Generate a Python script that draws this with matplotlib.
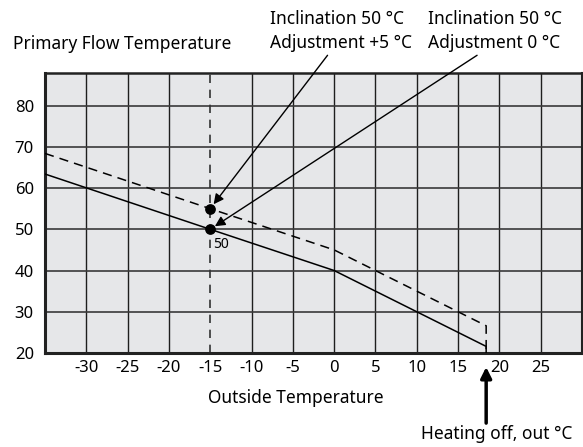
import matplotlib
matplotlib.use('Agg')
import matplotlib.pyplot as plt

plt.rcParams['font.family'] = ['Noto Sans', 'DejaVu Sans']

# --- datos ---
outside_ticks = [-30, -25, -20, -15, -10, -5, 0, 5, 10, 15, 20, 25]
flow_ticks = [20, 30, 40, 50, 60, 70, 80]

curve_x = [-35, -15, 0, 18.4, 18.4]
curve_base = [63.4, 50, 40, 21.6, 20]       # inclinación 50, ajuste 0
curve_plus5 = [68.4, 55, 45, 26.6, 20]      # inclinación 50, ajuste +5

design_temp = -15
heating_off = 18.4
points_x = [-15, -15]
points_y = [55, 50]

fig = plt.figure(figsize=(5.83, 4.47), dpi=100)
ax = fig.add_axes([45 / 583, 1 - 353 / 447, 537 / 583, 280.4 / 447])
ax.set_facecolor('#e6e7e9')
ax.set_xlim(-35, 30)
ax.set_ylim(20, 88)

# rejilla manual (sin la línea de -15, que va discontinua)
for x in outside_ticks:
    if x != design_temp:
        ax.axvline(x, color='#1e1e1e', lw=1.0, zorder=1)
for y in flow_ticks[1:]:
    ax.axhline(y, color='#3a3a3a', lw=1.2, zorder=1)
ax.axvline(design_temp, color='#333333', lw=1.2, ls=(0, (5, 4)), zorder=1)

ax.plot(curve_x, curve_base, color='black', lw=1.1, zorder=3)
ax.plot(curve_x, curve_plus5, color='black', lw=1.1, ls=(0, (6, 4)), zorder=3)
ax.scatter(points_x, points_y, s=45, color='black', zorder=4)
ax.text(-14.7, 46.4, '50', fontsize=10, va='center', ha='left')

for s in ax.spines.values():
    s.set_color('#222222')
    s.set_linewidth(1.5)
ax.spines['left'].set_linewidth(2.2)
ax.spines['bottom'].set_linewidth(2.2)
ax.spines['top'].set_linewidth(1.8)

ax.set_xticks(outside_ticks)
ax.set_xticklabels([str(t) for t in outside_ticks])
ax.set_yticks(flow_ticks)
ax.tick_params(length=0, labelsize=12)
ax.tick_params(axis='x', pad=5)
ax.tick_params(axis='y', pad=8)

fig.text(12.7 / 583, 1 - 44 / 447, 'Primary Flow Temperature', fontsize=12.5, va='center')
fig.text(295.5 / 583, 1 - 398 / 447, 'Outside Temperature', fontsize=12.5, va='center', ha='center')

# textos de las flechas
fig.text(270 / 583, 1 - 31 / 447, 'Inclination 50 °C\nAdjustment +5 °C', fontsize=12.5,
         va='center', ha='left', linespacing=1.45)
fig.text(428 / 583, 1 - 31 / 447, 'Inclination 50 °C\nAdjustment 0 °C', fontsize=12.5,
         va='center', ha='left', linespacing=1.45)

arrow_kw = dict(arrowstyle='-|>', color='black', lw=1, mutation_scale=15, shrinkA=0, shrinkB=4)
ax.annotate('', xy=(-15, 55), xytext=(-0.8, 92.2), annotation_clip=False, arrowprops=arrow_kw)
ax.annotate('', xy=(-15, 50), xytext=(17.3, 92.2), annotation_clip=False, arrowprops=arrow_kw)

# flecha de corte de calefacción
ax.annotate('', xy=(heating_off, 16.6), xytext=(heating_off, 3.0), annotation_clip=False,
            arrowprops=dict(arrowstyle='-|>', color='black', lw=2.5, mutation_scale=16,
                            shrinkA=0, shrinkB=0))
fig.text(496.5 / 583, 1 - 434 / 447, 'Heating off, out °C', fontsize=12.5, va='center', ha='center')

fig.savefig('out.png', dpi=100)
